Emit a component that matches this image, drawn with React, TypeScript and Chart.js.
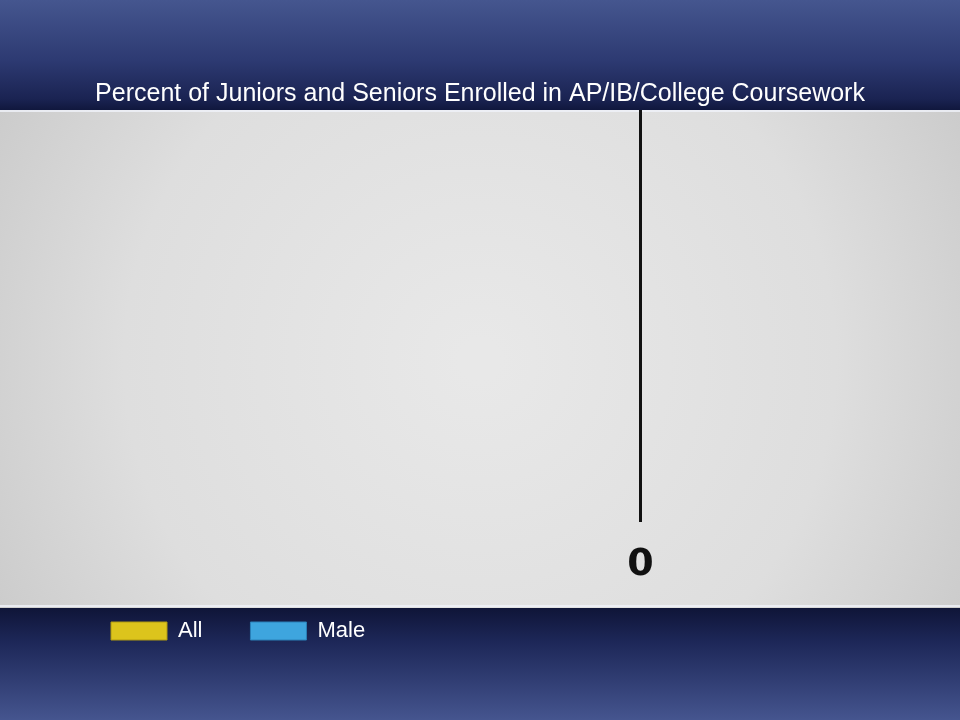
import React, { useEffect, useRef } from "react";
import { Chart, registerables } from "chart.js";

Chart.register(...registerables);

const TITLE = "Percent of Juniors and Seniors Enrolled in AP/IB/College Coursework";
const categories: string[] = [""];
const allValues: number[] = [0];
const maleValues: number[] = [0];
const seriesNames: string[] = ["All", "Male"];
const seriesColors: string[] = ["#dcc41c", "#3ea5de"];
const X_MIN = -250;
const X_MAX = 111;

const backdrop = {
  id: "backdrop",
  beforeDraw(chart: any) {
    const ctx = chart.ctx as CanvasRenderingContext2D;
    const w = chart.width;
    const h = chart.height;
    ctx.save();
    const g1 = ctx.createLinearGradient(0, 0, 0, 110);
    g1.addColorStop(0, "#45568f");
    g1.addColorStop(0.55, "#2d3a72");
    g1.addColorStop(0.9, "#1a2352");
    g1.addColorStop(1, "#10173d");
    ctx.fillStyle = g1;
    ctx.fillRect(0, 0, w, 110);
    const g2 = ctx.createLinearGradient(0, 608, 0, h);
    g2.addColorStop(0, "#0f1538");
    g2.addColorStop(0.3, "#1d2758");
    g2.addColorStop(1, "#45558f");
    ctx.fillStyle = g2;
    ctx.fillRect(0, 608, w, h - 608);
    const g3 = ctx.createRadialGradient(480, 360, 20, 480, 360, 580);
    g3.addColorStop(0, "#e8e8e8");
    g3.addColorStop(0.6, "#dedede");
    g3.addColorStop(1, "#c8c8c8");
    ctx.fillStyle = g3;
    ctx.fillRect(0, 110, w, 498);
    ctx.fillStyle = "rgba(240,242,250,0.8)";
    ctx.fillRect(0, 110, w, 2);
    ctx.fillRect(0, 605, w, 2);
    ctx.restore();
  },
};

export default function App() {
  const ref = useRef<HTMLCanvasElement | null>(null);

  useEffect(() => {
    document.body.style.margin = "0";
    const canvas = ref.current;
    if (!canvas) return;
    const chart = new Chart(canvas, {
      type: "bar",
      data: {
        labels: categories,
        datasets: [
          {
            label: seriesNames[0],
            data: allValues,
            backgroundColor: seriesColors[0],
            borderColor: "#b09a10",
            borderWidth: 1,
          },
          {
            label: seriesNames[1],
            data: maleValues,
            backgroundColor: seriesColors[1],
            borderColor: "#2a80b8",
            borderWidth: 1,
          },
        ],
      },
      options: {
        indexAxis: "y",
        animation: false,
        responsive: false,
        layout: { padding: { top: 0, left: 63, right: 63, bottom: 68 } },
        scales: {
          x: {
            min: X_MIN,
            max: X_MAX,
            border: { display: false },
            afterFit: (scale: any) => {
              scale.height = 50;
            },
            grid: {
              drawTicks: false,
              lineWidth: 3,
              color: (c: any) => (c.tick && c.tick.value === 0 ? "#111111" : "rgba(0,0,0,0)"),
            },
            ticks: {
              stepSize: 50,
              mirror: true,
              padding: -62,
              color: "#111111",
              font: { family: "DejaVu Sans", size: 38, weight: "bold", lineHeight: 1 },
              callback: (v: any) => (Number(v) === 0 ? "0" : ""),
              maxRotation: 0,
              autoSkip: false,
            },
          },
          y: { display: false },
        },
        plugins: {
          title: {
            display: true,
            text: TITLE,
            color: "#ffffff",
            font: { family: "Liberation Sans", size: 25, weight: "normal", lineHeight: 1.2 },
            padding: { top: 79, bottom: 1 },
          },
          legend: {
            display: true,
            position: "bottom",
            align: "start",
            labels: {
              color: "#ffffff",
              boxWidth: 56,
              boxHeight: 18,
              padding: 48,
              font: { family: "Liberation Sans", size: 22 },
            },
          },
          tooltip: { enabled: false },
        },
      },
      plugins: [backdrop],
    } as any);
    return () => chart.destroy();
  }, []);

  return (
    <div style={{ width: 960, height: 720 }}>
      <canvas ref={ref} width={960} height={720} />
    </div>
  );
}
